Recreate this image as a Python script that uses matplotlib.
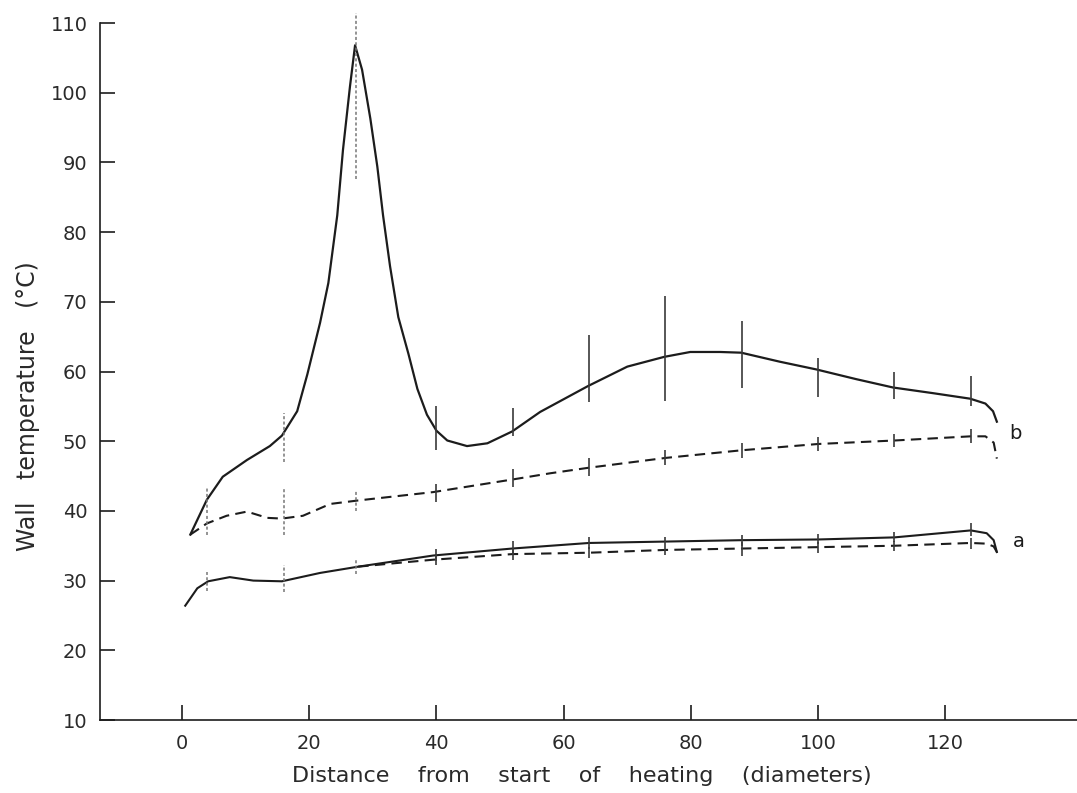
import numpy as np
import matplotlib
matplotlib.use("Agg")
import matplotlib.pyplot as plt

# Wall temperature vs distance from start of heating

# upper solid curve (b)
b_solid_x = [1.3, 3.9, 6.4, 10.2, 13.8, 15.7, 18.1, 19.7, 21.7, 23.0, 24.4, 25.3, 26.4, 27.2,
             28.3, 29.6, 30.7, 31.6, 32.7, 34.0, 35.6, 37.0, 38.5, 40.0, 41.7, 44.8, 48.0,
             51.9, 56.3, 63.8, 70.0, 75.8, 79.9, 84.6, 87.9, 94.0, 99.7, 106.0, 111.8,
             118.0, 123.9, 126.3, 127.5, 128.1]
b_solid_y = [36.6, 41.6, 44.9, 47.3, 49.3, 50.8, 54.3, 59.6, 67.0, 72.7, 82.4, 91.8, 100.9, 106.8,
             103.3, 96.3, 89.4, 82.4, 75.1, 67.8, 62.5, 57.5, 53.8, 51.5, 50.1, 49.3, 49.7,
             51.4, 54.2, 57.9, 60.7, 62.1, 62.8, 62.8, 62.7, 61.4, 60.3, 58.9, 57.7,
             56.9, 56.1, 55.4, 54.3, 52.8]

# upper dashed curve (b)
b_dash_x = [1.3, 3.9, 7.0, 10.2, 13.4, 15.7, 19.0, 23.3, 27.7, 39.5, 51.9, 57.9, 64.0,
            76.0, 88.0, 100.0, 112.0, 124.0, 126.3, 127.6, 128.1]
b_dash_y = [36.6, 38.2, 39.3, 39.9, 39.0, 38.9, 39.3, 41.0, 41.5, 42.7, 44.5, 45.4, 46.2,
            47.6, 48.7, 49.6, 50.1, 50.7, 50.7, 49.8, 47.5]

# lower solid curve (a)
a_solid_x = [0.5, 2.4, 4.1, 7.5, 11.2, 15.7, 21.7, 27.7, 39.5, 51.9, 64.0, 76.0, 88.0,
             100.0, 112.0, 118.0, 124.0, 126.5, 127.6, 128.1]
a_solid_y = [26.4, 28.9, 29.9, 30.5, 30.0, 29.9, 31.1, 32.0, 33.6, 34.6, 35.4, 35.6, 35.8,
             35.9, 36.2, 36.7, 37.2, 36.8, 35.8, 34.1]

# lower dashed curve (a)
a_dash_x = [27.7, 33.5, 39.5, 51.9, 64.0, 76.0, 88.0, 100.0, 112.0, 124.0, 126.5, 127.6, 128.1]
a_dash_y = [32.0, 32.5, 33.0, 33.8, 34.0, 34.4, 34.6, 34.8, 35.0, 35.4, 35.3, 34.9, 34.1]

# scatter bars at the measuring stations
stations = [4, 16, 27.3, 40, 52, 64, 76, 88, 100, 112, 124]
b_solid_lo = [39.7, 47.0, 87.6, 48.7, 50.7, 55.6, 55.8, 57.7, 56.3, 56.1, 55.1]
b_solid_hi = [43.5, 54.0, 111.4, 55.0, 54.8, 65.2, 70.8, 67.3, 62.0, 59.9, 59.3]
b_dash_lo = [36.5, 36.5, 40.0, 41.3, 43.5, 45.0, 46.6, 47.6, 48.6, 49.2, 49.8]
b_dash_hi = [39.6, 43.4, 42.8, 43.8, 46.0, 47.6, 48.8, 49.8, 50.6, 51.0, 51.7]
a_solid_lo = [28.5, 28.3, 30.9, 32.8, 33.9, 34.6, 34.9, 35.0, 35.2, 35.5, 36.4]
a_solid_hi = [31.3, 32.3, 33.2, 34.6, 35.7, 36.2, 36.3, 36.6, 36.7, 37.0, 38.3]
a_dash_st = [40, 52, 64, 76, 88, 100, 112, 124]
a_dash_lo = [32.2, 33.0, 33.2, 33.7, 33.6, 34.0, 34.2, 34.6]
a_dash_hi = [33.8, 34.6, 34.8, 35.0, 35.6, 35.6, 35.7, 36.1]

x_ticks = [0, 20, 40, 60, 80, 100, 120]
y_ticks = [10, 20, 30, 40, 50, 60, 70, 80, 90, 100, 110]

ink = "#1c1c1c"

fig = plt.figure(figsize=(10.77, 7.93), dpi=100)
ax = fig.add_axes([100 / 1077, 73 / 793, 977 / 1077, 697 / 793])

ax.plot(b_solid_x, b_solid_y, color=ink, lw=1.6, solid_joinstyle="round")
ax.plot(b_dash_x, b_dash_y, color=ink, lw=1.5, linestyle=(0, (5, 3)))
ax.plot(a_solid_x, a_solid_y, color=ink, lw=1.5, solid_joinstyle="round")
ax.plot(a_dash_x, a_dash_y, color=ink, lw=1.5, linestyle=(0, (5, 3)))

# first three stations are printed faint/dotted in the original
for lo, hi, st in [(b_solid_lo, b_solid_hi, stations), (b_dash_lo, b_dash_hi, stations),
                   (a_solid_lo, a_solid_hi, stations), (a_dash_lo, a_dash_hi, a_dash_st)]:
    for x, l, h in zip(st, lo, hi):
        if x < 30:
            ax.vlines(x, l, h, color="#777777", lw=1.1, linestyle=(0, (2, 1.5)), clip_on=False)
        else:
            ax.vlines(x, l, h, color="#3a3a3a", lw=1.2, clip_on=False)

ax.text(131, 51.1, "b", fontsize=14, color=ink, ha="center", va="center")
ax.text(131.5, 35.6, "a", fontsize=14, color=ink, ha="center", va="center")

ax.set_xlim(-12.9, 140.7)
ax.set_ylim(10, 110)
ax.set_xticks(x_ticks)
ax.set_yticks(y_ticks)
ax.set_xticklabels([str(v) for v in x_ticks])
ax.set_yticklabels([str(v) for v in y_ticks])

for side in ["top", "right"]:
    ax.spines[side].set_visible(False)
for side in ["left", "bottom"]:
    ax.spines[side].set_color(ink)
    ax.spines[side].set_linewidth(1.2)

ax.tick_params(direction="in", length=11, width=1.2, color=ink,
               labelsize=14, labelcolor="#2a2a2a")
ax.tick_params(axis="y", pad=9)
ax.tick_params(axis="x", pad=10)

fig.text(28 / 1077, 1 - 406 / 793, "Wall   temperature   (°C)", rotation=90,
         ha="center", va="center", fontsize=17, color="#2a2a2a")
fig.text(582 / 1077, 1 - 776 / 793,
         "Distance    from    start    of    heating    (diameters)",
         ha="center", va="center", fontsize=16, color="#2a2a2a")

fig.savefig("out.png", dpi=100, facecolor="white")
